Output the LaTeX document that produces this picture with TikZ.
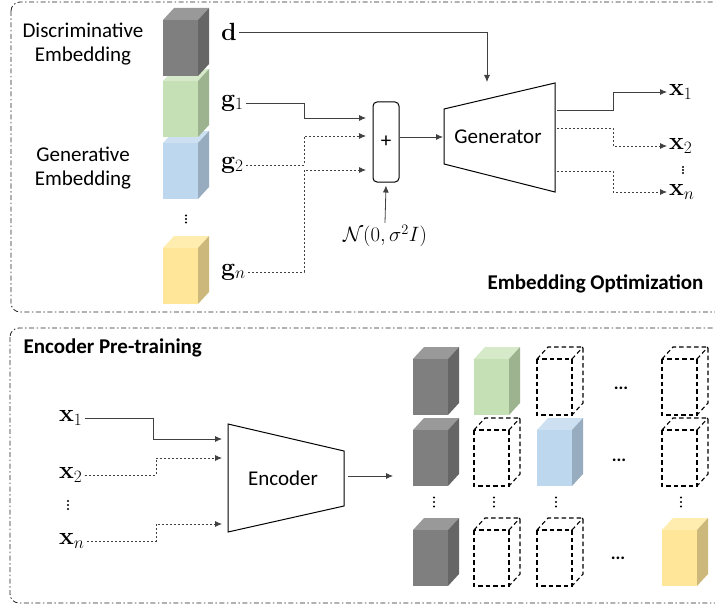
\documentclass[tikz,border=0pt]{standalone}
\usepackage[no-math]{fontspec}
\setmainfont{Carlito}
\usetikzlibrary{arrows.meta}

\definecolor{gryfront}{HTML}{7F7F7F}
\definecolor{gryside}{HTML}{666666}
\definecolor{grytop}{HTML}{999999}
\definecolor{grnfront}{HTML}{C5E0B4}
\definecolor{grnside}{HTML}{9DB390}
\definecolor{grntop}{HTML}{D6EACA}
\definecolor{blufront}{HTML}{BDD7EE}
\definecolor{bluside}{HTML}{97ACBE}
\definecolor{blutop}{HTML}{CCE0F2}
\definecolor{yelfront}{HTML}{FFE699}
\definecolor{yelside}{HTML}{CCB87A}
\definecolor{yeltop}{HTML}{FFEDB0}

% solid embedding cube: x, y of front top-left corner, colour prefix
\newcommand{\embcube}[3]{%
  \fill[#3top] (#1,#2) -- ++(11,-12) -- ++(35,0) -- ++(-11,12) -- cycle;
  \fill[#3side] (#1+35,#2) -- ++(11,-12) -- ++(0,56) -- ++(-11,12) -- cycle;
  \fill[#3front] (#1,#2) rectangle ++(35,56);
}
% empty (dashed) cube
\newcommand{\ghostcube}[2]{%
  \draw[ghost] (#1,#2) rectangle ++(35,56);
  \draw[ghost] (#1,#2) -- ++(11,-12) -- ++(35,0) -- ++(0,56) -- ++(-11,12);
  \draw[ghost] (#1+35,#2) -- ++(11,-12);
}
% three stacked dots: x, y of the middle one, spacing
\newcommand{\dotcol}[3]{%
  \foreach \k in {-1,0,1}
    {\fill (#1,#2+\k*#3) circle[radius=1.1pt];}
}

\tikzset{
  flow/.style={-{Latex[length=7pt,width=6pt]}, line width=0.8pt, draw=black!75},
  flowdash/.style={flow, dash pattern=on 2pt off 2pt},
  panel/.style={draw=black!85, line width=0.8pt, rounded corners=9pt,
    dash pattern=on 5pt off 2.5pt on 1.5pt off 2.5pt},
  lbl/.style={font=\fontsize{21}{24}\selectfont, align=center},
  head/.style={font=\fontsize{21}{24}\selectfont\bfseries},
  vec/.style={font=\fontsize{23}{26}\selectfont, inner sep=2pt},
  hdot/.style={font=\fontsize{18}{18}\selectfont\bfseries, inner sep=0pt},
  ghost/.style={draw, line width=1.1pt, dash pattern=on 4.5pt off 3pt},
  block/.style={draw, line width=1pt},
}

\begin{document}
\begin{tikzpicture}[x=1pt,y=-1pt]
\useasboundingbox (0,0) rectangle (715,607);

% panels
\draw[panel] (11,2) rectangle (735,312);
\draw[panel] (10,328) rectangle (735,603);
\node[head, anchor=east] (optim) at (707,284) {Embedding Optimization};
\node[head, anchor=west] (pretrain) at (20,348) {Encoder Pre-training};

% embedding stack, lower cubes first
\embcube{163}{248}{yel}
\embcube{163}{143}{blu}
\embcube{163}{81}{grn}
\embcube{163}{20}{gry}
\dotcol{186}{219}{3.5}

\node[lbl] (disc) at (83,44) {Discriminative\\Embedding};
\node[lbl] (genemb) at (83,168) {Generative\\Embedding};

\node[vec, anchor=west] (d) at (219,32) {$\mathbf{d}$};
\node[vec, anchor=west] (g1) at (219,103) {$\mathbf{g}_1$};
\node[vec, anchor=west] (g2) at (219,165) {$\mathbf{g}_2$};
\node[vec, anchor=west] (gn) at (219,272) {$\mathbf{g}_n$};

% sum and generator
\node[block, rounded corners=4pt, minimum width=26pt, minimum height=80pt,
  font=\fontsize{21}{24}\selectfont] (sum) at (386,142) {+};
\node[vec, font=\fontsize{22}{24}\selectfont] (noise) at (385,236) {$\mathcal{N}(0,\sigma^2 I)$};

\coordinate (gtl) at (444,109);
\coordinate (gtr) at (555,83);
\coordinate (gbr) at (555,192);
\coordinate (gbl) at (444,164);
\draw[block] (gtl) -- (gtr) -- (gbr) -- (gbl) -- cycle;
\node[lbl] (generator) at (498,137) {Generator};

\coordinate (pin1) at (366,118);
\coordinate (pin2) at (366,136);
\coordinate (pinn) at (366,170);
\coordinate (gin) at (443,137);
\coordinate (dtip) at (487,82);

\draw[flow] (d.east) -| (dtip);
\draw[flow] (g1.east) -| (304,118) -- (pin1);
\draw[flowdash] (g2.east) -| (304,136) -- (pin2);
\draw[flowdash] (gn.east) -| (304,170) -- (pinn);
\draw[flow] (noise.north) -- ([yshift=-3pt]sum.south);
\draw[flow] (sum.east |- gin) -- (gin);

% generated samples
\node[vec, anchor=west] (x1) at (667,92) {$\mathbf{x}_1$};
\node[vec, anchor=west] (x2) at (667,146) {$\mathbf{x}_2$};
\dotcol{683}{170}{3}
\node[vec, anchor=west] (xn) at (667,192) {$\mathbf{x}_n$};

\coordinate (go1) at (557,110);
\coordinate (go2) at (557,128);
\coordinate (gon) at (557,171);
\draw[flow] (go1) -| (613,92) -- (x1.west);
\draw[flowdash] (go2) -| (613,146) -- (x2.west);
\draw[flowdash] (gon) -| (613,192) -- (xn.west);

% encoder
\node[vec, anchor=west] (ex1) at (57,418) {$\mathbf{x}_1$};
\node[vec, anchor=west] (ex2) at (57,475) {$\mathbf{x}_2$};
\dotcol{68}{505}{4}
\node[vec, anchor=west] (exn) at (57,541) {$\mathbf{x}_n$};

\coordinate (etl) at (228,424);
\coordinate (etr) at (344,451);
\coordinate (ebr) at (344,506);
\coordinate (ebl) at (228,532);
\draw[block] (etl) -- (etr) -- (ebr) -- (ebl) -- cycle;
\node[lbl] (encoder) at (283,478) {Encoder};

\coordinate (ein1) at (222,439);
\coordinate (ein2) at (222,458);
\coordinate (einn) at (222,524);
\draw[flow] (ex1.east) -| (153,439) -- (ein1);
\draw[flowdash] (ex2.east) -| (156,458) -- (ein2);
\draw[flowdash] (exn.east) -| (156,524) -- (einn);

\coordinate (eout) at (348,476);
\coordinate (grid) at (393,476);
\draw[flow] (eout) -- (grid);

% predicted embeddings
\embcube{413}{359}{gry}
\embcube{474}{359}{grn}
\ghostcube{537}{359}
\ghostcube{662}{359}
\embcube{413}{430}{gry}
\ghostcube{474}{430}
\embcube{537}{430}{blu}
\ghostcube{662}{430}
\embcube{413}{530}{gry}
\ghostcube{474}{530}
\ghostcube{537}{530}
\embcube{662}{530}{yel}

\node[hdot] (r1dots) at (621,388) {...};
\node[hdot] (r2dots) at (619,460) {...};
\node[hdot] (r3dots) at (618,558) {...};
\foreach \cx in {434,494,556,681}
  {\dotcol{\cx}{502}{4.5}}

\end{tikzpicture}
\end{document}
